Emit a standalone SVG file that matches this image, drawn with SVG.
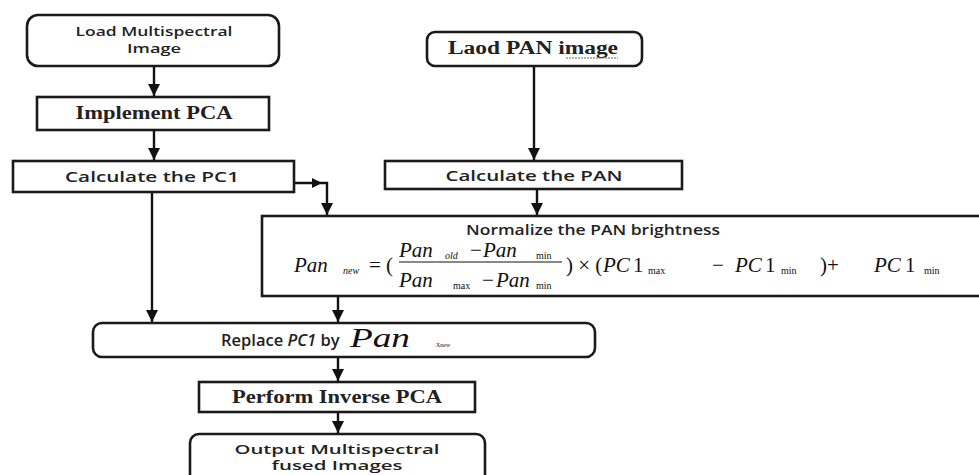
<svg xmlns="http://www.w3.org/2000/svg" width="979" height="475" viewBox="0 0 979 475">
<style>
.box{fill:#fff;stroke:#1a1a1a;stroke-width:2.6}
.sans{font-family:"Open Sans","Liberation Sans",sans-serif;font-weight:600;font-size:14px;fill:#222}
.sans2{font-family:"Open Sans","Liberation Sans",sans-serif;font-weight:600;font-size:12.5px;fill:#222}
.serif{font-family:"Liberation Serif","Times New Roman",serif;font-weight:bold;font-size:18px;fill:#222}
.m{font-family:"Liberation Serif","Times New Roman",serif;font-style:italic;font-size:21px;fill:#111}
.mr{font-family:"Liberation Serif","Times New Roman",serif;font-size:21px;fill:#111}
.sub{font-family:"Liberation Serif","Times New Roman",serif;font-size:10px;fill:#111}
.con{fill:none;stroke:#111;stroke-width:2.4}
</style>
<defs>
<marker id="ah" markerUnits="userSpaceOnUse" markerWidth="12" markerHeight="12" refX="10" refY="5" orient="auto" viewBox="0 0 10 10">
<path d="M0,0 L10,5 L0,10 z" fill="#111"/>
</marker>
</defs>

<g id="connectors">
<path class="con" d="M154,66 V96" marker-end="url(#ah)"/>
<path class="con" d="M154,130 V160" marker-end="url(#ah)"/>
<path class="con" d="M534,66 V160" marker-end="url(#ah)"/>
<path class="con" d="M537,189 V215" marker-end="url(#ah)"/>
<path class="con" d="M294,183 H327 V215" marker-end="url(#ah)"/>
<polygon points="312,178 322,183 312,188" fill="#111"/>
<path class="con" d="M152,192 V322" marker-end="url(#ah)"/>
<path class="con" d="M338,296 V322" marker-end="url(#ah)"/>
<path class="con" d="M338,357 V381" marker-end="url(#ah)"/>
<path class="con" d="M338,412 V433" marker-end="url(#ah)"/>
</g>

<g id="load-ms">
<rect class="box" x="27" y="15" width="252" height="51" rx="11"/>
<text class="sans2" x="154" y="36" text-anchor="middle" textLength="157" lengthAdjust="spacingAndGlyphs">Load Multispectral</text>
<text class="sans2" x="154" y="53" text-anchor="middle" textLength="54" lengthAdjust="spacingAndGlyphs">Image</text>
</g>

<g id="implement-pca">
<rect class="box" x="37" y="97" width="232" height="33"/>
<text class="serif" x="154" y="119" text-anchor="middle" textLength="157" lengthAdjust="spacingAndGlyphs">Implement PCA</text>
</g>

<g id="calc-pc1">
<rect class="box" x="13" y="161" width="281" height="31"/>
<text class="sans" x="152" y="182" text-anchor="middle" textLength="174" lengthAdjust="spacingAndGlyphs">Calculate the PC1</text>
</g>

<g id="load-pan">
<rect class="box" x="427" y="32" width="215" height="34" rx="8"/>
<text class="serif" x="448" y="54" textLength="170" lengthAdjust="spacingAndGlyphs">Laod PAN image</text>
<line x1="566" y1="58" x2="618" y2="58" stroke="#666" stroke-width="1" stroke-dasharray="2,1"/>
</g>

<g id="calc-pan">
<rect class="box" x="385" y="161" width="297" height="28"/>
<text class="sans" x="534" y="181" text-anchor="middle" textLength="177" lengthAdjust="spacingAndGlyphs">Calculate the PAN</text>
</g>

<g id="normalize">
<rect class="box" x="262" y="216" width="725" height="80"/>
<text class="sans" x="593" y="235" text-anchor="middle" textLength="254" lengthAdjust="spacingAndGlyphs">Normalize the PAN brightness</text>
<text class="m" x="294" y="272">Pan</text>
<text class="sub" x="343" y="274" font-style="italic">new</text>
<text class="mr" x="369" y="272">=</text>
<text class="mr" x="386" y="272">(</text>
<text class="m" x="399" y="257">Pan</text>
<text class="sub" x="445" y="259" font-style="italic">old</text>
<text class="mr" x="470" y="257">−</text>
<text class="m" x="483" y="257">Pan</text>
<text class="sub" x="536" y="259">min</text>
<line x1="399" y1="262" x2="562" y2="262" stroke="#111" stroke-width="1"/>
<text class="m" x="399" y="287">Pan</text>
<text class="sub" x="453" y="289">max</text>
<text class="mr" x="482" y="287">−</text>
<text class="m" x="496" y="287">Pan</text>
<text class="sub" x="536" y="289">min</text>
<text class="mr" x="566" y="272">) × (</text>
<text class="m" x="603" y="272">PC</text>
<text class="mr" x="633" y="272">1</text>
<text class="sub" x="648" y="274">max</text>
<text class="mr" x="712" y="272">−</text>
<text class="m" x="735" y="272">PC</text>
<text class="mr" x="765" y="272">1</text>
<text class="sub" x="781" y="274">min</text>
<text class="mr" x="820" y="272">)+</text>
<text class="m" x="874" y="272">PC</text>
<text class="mr" x="905" y="272">1</text>
<text class="sub" x="924" y="274">min</text>
</g>

<g id="replace">
<rect class="box" x="93" y="323" width="502" height="34" rx="9"/>
<text class="sans" x="221" y="346" style="font-size:16.5px">Replace <tspan font-style="italic">PC1</tspan> by</text>
<text class="m" x="350" y="347" style="font-size:28px" textLength="60" lengthAdjust="spacingAndGlyphs">Pan</text>
<text class="sub" x="436" y="347" style="font-size:6px">Xnew</text>
</g>

<g id="inverse-pca">
<rect class="box" x="199" y="382" width="276" height="30"/>
<text class="serif" x="337" y="403" text-anchor="middle" textLength="210" lengthAdjust="spacingAndGlyphs">Perform Inverse PCA</text>
</g>

<g id="output">
<rect class="box" x="190" y="434" width="295" height="50" rx="9"/>
<text class="sans2" x="337" y="454" text-anchor="middle" textLength="205" lengthAdjust="spacingAndGlyphs">Output Multispectral</text>
<text class="sans2" x="337" y="470" text-anchor="middle" textLength="131" lengthAdjust="spacingAndGlyphs">fused Images</text>
</g>
</svg>
